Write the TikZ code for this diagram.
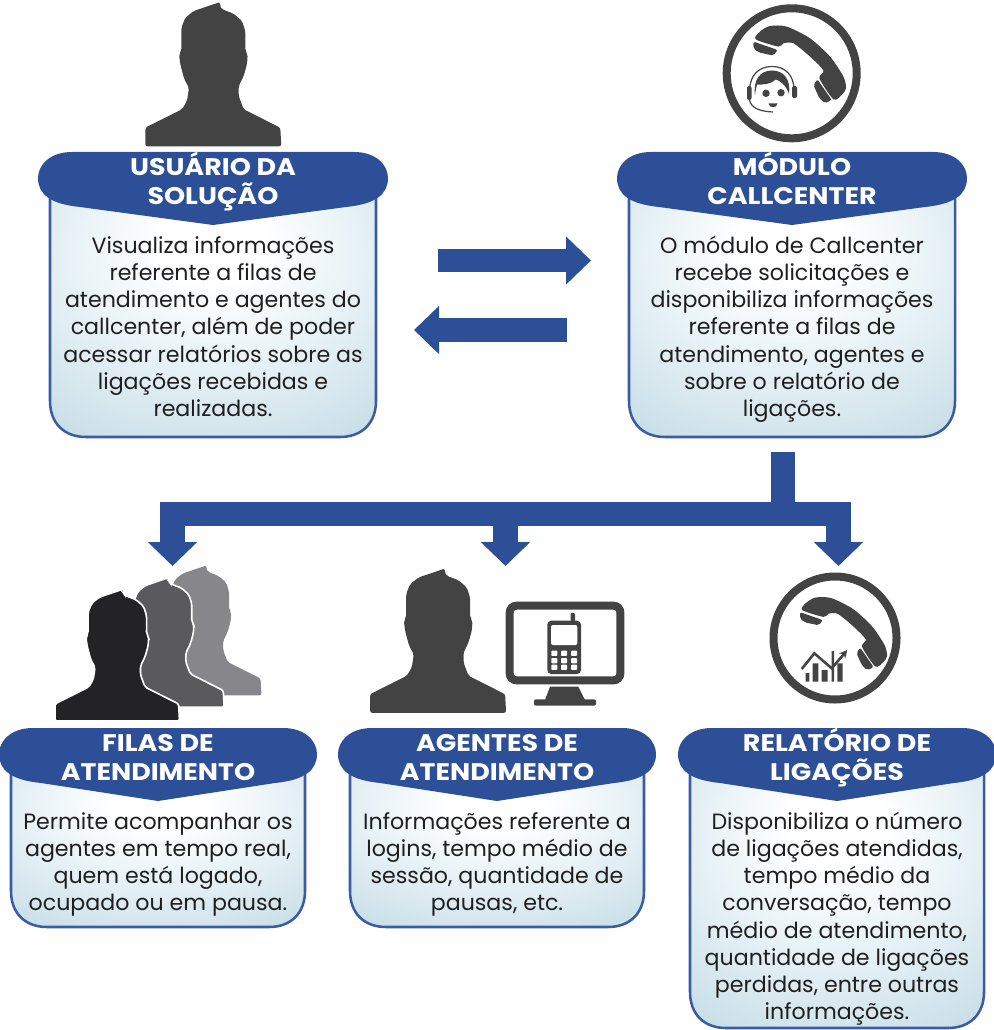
\documentclass[tikz,border=0pt]{standalone}
\usepackage{fontspec}
\setmainfont{Poppins}
\newfontfamily\headfont{Poppins}[FakeStretch=1.12]
\usepackage{tikz}
\usetikzlibrary{arrows.meta}

\definecolor{headblue}{HTML}{2C4F98}
\definecolor{cardedge}{HTML}{3A5CA4}
\definecolor{icongray}{HTML}{434343}
\definecolor{inktext}{HTML}{1F1F1F}
\definecolor{queueBack}{HTML}{87878B}
\definecolor{queueMid}{HTML}{5A5A5C}
\definecolor{queueFront}{HTML}{232224}
\pgfdeclareradialshading{cardglow}{\pgfpoint{0bp}{16bp}}{color(0bp)=(white); color(8bp)=(white);
  color(22bp)=(rgb,255:red,232;green,242;blue,246); color(36bp)=(rgb,255:red,208;green,227;blue,235);
  color(48bp)=(rgb,255:red,180;green,211;blue,224); color(84bp)=(rgb,255:red,166;green,202;blue,217)}

\tikzset{
  person/.pic={
    \path[pic actions, rounded corners=1.6pt] (7.3,1) -- (6.7,5) -- (9,8.3) -- (20.7,12.7) -- (29,20) -- (32.3,30)
      -- (32.3,50) -- (34.7,53.3) -- (34,63.3) -- (30.7,75) -- (25.7,85) -- (25.7,95) -- (30.7,108.3)
      -- (67.3,126.7) -- (68.3,145.3) -- (-67.7,145.3) -- (-67.7,126.7) -- (-31,108.3) -- (-26,100)
      -- (-24,86.7) -- (-28.7,78.3) -- (-32.7,63.3) -- (-34,53.3) -- (-31.7,50) -- (-31.7,26.7)
      -- (-27.7,16.7) -- (-19.3,10) -- cycle;
  },
  handset/.pic={
    \fill[icongray] plot[smooth cycle, tension=.45] coordinates {(-36,-34) (-31.7,-41.7) (-21.7,-47.3) (-5,-46.7)
      (18.3,-35) (38.3,-16.7) (51.7,3.3) (54.3,15) (50,21.7) (41.7,26) (27.7,5) (31.7,-2.7)
      (18.3,-16.7) (1.7,-30) (-8.3,-30) (-13.3,-26.7)};
    \fill[icongray, rounded corners=1.5pt] (-38.3,-31.7) -- (-14,-23.3) -- (-18.3,-17.7) -- (-33.3,-21) -- (-38.3,-25) -- cycle;
    \fill[icongray, rounded corners=1.5pt] (25.7,6) -- (40,26.7) -- (33.3,30) -- (27.7,25) -- (21.7,11.7) -- cycle;
  }
}

\newcommand{\infocard}[7]{
  \begin{scope}[shift={(#2,#3)}]
    \pgfmathsetmacro{\hw}{#4}
    \pgfmathsetmacro{\hh}{#4+12}
    \path[shade, shading=cardglow, draw=cardedge, line width=1.9pt]
      (-\hw,40) -- (-\hw,#5-36) .. controls (-\hw,#5-14) and (-\hw+14,#5) .. (-\hw+36,#5)
      -- (\hw-36,#5) .. controls (\hw-14,#5) and (\hw,#5-14) .. (\hw,#5-36) -- (\hw,40) -- cycle;
    \fill[headblue] (-\hh+34,0) -- (\hh-34,0) .. controls (\hh-12,0) and (\hh,13) .. (\hh,26)
      .. controls (\hh,42) and (\hw,52) .. (\hw-30,55) -- (0,73) -- (-\hw+30,55)
      .. controls (-\hw,52) and (-\hh,42) .. (-\hh,26) .. controls (-\hh,13) and (-\hh+12,0) .. (-\hh+34,0) -- cycle;
    \node[titletext] (#1title) at (0,-5) {\rule{0pt}{21pt}#6};
    \node[bodytext] (#1text) at (0,77) {\rule{0pt}{18pt}#7};
  \end{scope}
}

\begin{document}
\begin{tikzpicture}[x=.75pt, y=-.75pt]
  \tikzstyle{titletext} = [anchor=north, align=center, inner sep=0pt, text=white, font=\headfont\fontsize{18}{21.75}\selectfont\bfseries]
  \tikzstyle{bodytext} = [anchor=north, align=center, inner sep=0pt, text=inktext, font=\fontsize{16.6}{20.4}\selectfont]
  \tikzstyle{flow} = [headblue, line width=17.6pt, -{Triangle[length=18.75pt, width=35pt]}]
  \tikzstyle{drop} = [headblue, line width=18.5pt, -{Triangle[length=18pt, width=36pt]}]
  \tikzstyle{bus} = [headblue, line width=18pt]
  \useasboundingbox (0,0) rectangle (994,1030);

  \infocard{user}{213}{152}{163}{285}{USUÁRIO DA\\SOLUÇÃO}{Visualiza informações\\referente a filas de\\atendimento e agentes do\\callcenter, além de poder\\acessar relatórios sobre as\\ligações recebidas e\\realizadas.}
  \infocard{module}{792}{152}{163}{285}{MÓDULO\\CALLCENTER}{O módulo de Callcenter\\recebe solicitações e\\disponibiliza informações\\referente a filas de\\atendimento, agentes e\\sobre o relatório de\\ligações.}
  \infocard{queue}{158}{728}{147}{199}{FILAS DE\\ATENDIMENTO}{Permite acompanhar os\\agentes em tempo real,\\quem está logado,\\ocupado ou em pausa.}
  \infocard{agent}{497}{728}{147}{199}{AGENTES DE\\ATENDIMENTO}{Informações referente a\\logins, tempo médio de\\sessão, quantidade de\\pausas, etc.}
  \infocard{report}{837}{728}{147}{300}{RELATÓRIO DE\\LIGAÇÕES}{Disponibiliza o número\\de ligações atendidas,\\tempo médio da\\conversação, tempo\\médio de atendimento,\\quantidade de ligações\\perdidas, entre outras\\informações.}

  \coordinate (reqTail) at (438,260.5);
  \coordinate (reqTip) at (591,260.5);
  \coordinate (ansTail) at (567,330);
  \coordinate (ansTip) at (414,330);
  \draw[flow] (reqTail) -- (reqTip);
  \draw[flow] (ansTail) -- (ansTip);

  \coordinate (trunkTop) at (783,452);
  \coordinate (busTop) at (783,503);
  \coordinate (busWest) at (160,514);
  \coordinate (busEast) at (851,514);
  \coordinate (queueTop) at (172.5,503);
  \coordinate (queueTip) at (172.5,566);
  \coordinate (agentTop) at (505.5,514);
  \coordinate (agentTip) at (505.5,566);
  \coordinate (reportTop) at (838.5,503);
  \coordinate (reportTip) at (838.5,566);
  \draw[bus] (busWest) -- (busEast);
  \draw[headblue, line width=18pt] (trunkTop) -- (busTop);
  \draw[drop] (queueTop) -- (queueTip);
  \draw[drop] (agentTop) -- (agentTip);
  \draw[drop] (reportTop) -- (reportTip);

  \pic[fill=icongray] (userIcon) at (213,1) {person};

  \draw[icongray, line width=6pt] (791.7,73.3) circle (65);
  \pic (moduleHandset) at (791.7,73.3) {handset};
  \draw[icongray, line width=.9pt] (749.5,90) .. controls (750,75) and (759,66.5) .. (772,66.5) .. controls (785,66.5) and (794,75) .. (794,90);
  \fill[icongray] (755,95) .. controls (753,80) and (760,70.5) .. (772,70.5) .. controls (784,70.5) and (791,80) .. (789,94)
    .. controls (786,85) and (780,81) .. (776,79.5) .. controls (771,84) and (763,85) .. (757,84.5) .. controls (756,88) and (755.5,92) .. (755,95) -- cycle;
  \fill[icongray] (766,93.3) circle (3.7) (781,92.7) circle (3.7);
  \fill[icongray] (768.5,103.5) -- (777.5,103.5) .. controls (777,108.5) and (769,108.5) .. (768.5,103.5) -- cycle;
  \fill[icongray, rounded corners=1.5pt] (747,86) rectangle (751.5,100) (792,86) rectangle (797,98);
  \draw[icongray, line width=.9pt] (749.5,100) .. controls (751,108) and (760,111.5) .. (773,112);

  \pic[fill=queueBack, scale=.9] (queueBack) at (200,564.5) {person};
  \pic[fill=queueMid, draw=white, line width=1.2pt, scale=.9] (queueMid) at (162.7,576.5) {person};
  \pic[fill=queueFront, draw=white, line width=1.2pt, scale=.915] (queueFront) at (117,588) {person};

  \pic[fill=icongray] (agentIcon) at (437.8,567.5) {person};
  \draw[icongray, line width=6pt, rounded corners=5pt] (509.7,605.7) rectangle (620.3,680.3);
  \fill[icongray] (550,686.7) -- (578.3,686.7) -- (585,700) -- (545,700) -- cycle;
  \fill[icongray, rounded corners=1.5pt] (534,699.3) rectangle (596,705.7);
  \fill[icongray, rounded corners=1.5pt] (570.7,612.7) rectangle (575,622);
  \fill[icongray, rounded corners=3pt] (547.3,620.7) rectangle (581,674);
  \fill[white, rounded corners=1.5pt] (551,625) rectangle (577.3,645);
  \foreach \kx in {554.3,564,574}
    \foreach \ky in {653.3,660.7,667.3}
      \fill[white, rounded corners=.6pt] (\kx-3,\ky-2.6) rectangle (\kx+3,\ky+2.6);

  \draw[icongray, line width=6pt] (835,638) circle (61.5);
  \pic[scale=.94] (reportHandset) at (836,642) {handset};
  \fill[icongray] (805.7,673) rectangle (809.3,681.7) (812.7,663.3) rectangle (818.3,681.7)
    (821.7,670) rectangle (827.7,681.7) (837.3,663.3) rectangle (842.7,681.7) (831.5,651) rectangle (834,681.7);
  \draw[icongray, line width=1.9pt, -{Stealth[length=6pt, width=6pt]}] (801.7,669) -- (814.3,653.3) -- (831.7,668.3) -- (847.3,650);
\end{tikzpicture}
\end{document}
